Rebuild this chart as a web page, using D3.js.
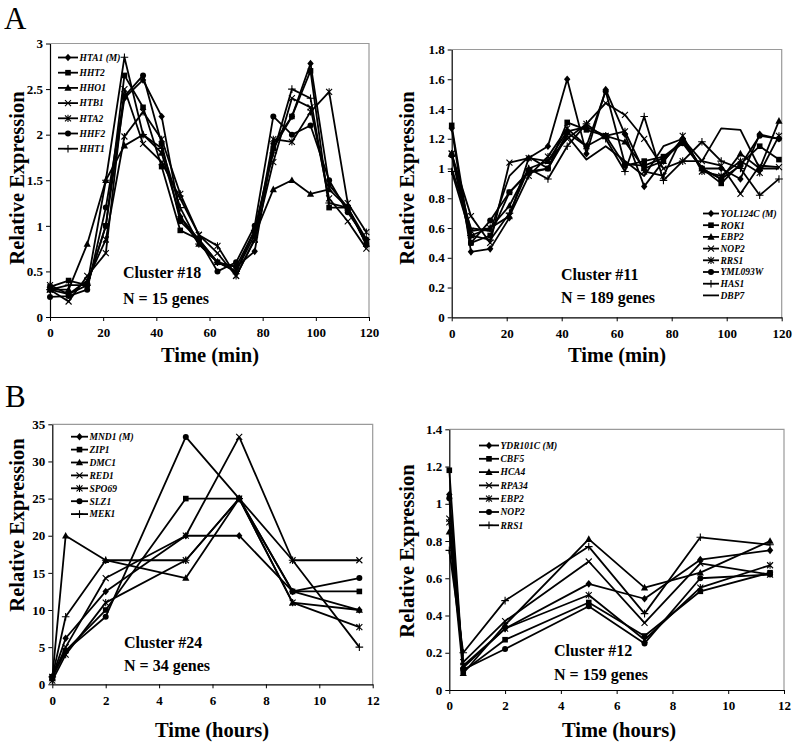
<!DOCTYPE html>
<html><head><meta charset="utf-8">
<script src="https://cdn.jsdelivr.net/npm/d3@7"></script>
<style>
html,body{margin:0;padding:0;background:#fff;}
svg{display:block;}
text{font-family:"Liberation Serif","Times New Roman",serif;fill:#000;}
</style></head>
<body><svg id="c" width="800" height="747"></svg>
<script>
// ---------- DATA ----------
const timeMin = [0,7,14,21,28,35,42,49,56,63,70,77,84,91,98,105,112,119];
const timeHours = [0,0.5,2,5,7,9,11.5];

const xTicksMin = [0,20,40,60,80,100,120];
const xTicksHours = [0,2,4,6,8,10,12];
const yTicksA1 = [0,0.5,1,1.5,2,2.5,3];
const yTicksA2 = [0,0.2,0.4,0.6,0.8,1,1.2,1.4,1.6,1.8];
const yTicksB1 = [0,5,10,15,20,25,30,35];
const yTicksB2 = [0,0.2,0.4,0.6,0.8,1,1.2,1.4];

// Panel A, cluster #18
const genesA1 = ["HTA1 (M)","HHT2","HHO1","HTB1","HTA2","HHF2","HHT1"];
const HTA1 = [0.30,0.25,0.35,1.00,2.40,2.60,2.20,1.10,0.85,0.60,0.55,0.72,1.90,2.20,2.78,1.45,1.20,0.80];
const HHT2 = [0.33,0.40,0.35,1.00,2.65,2.30,1.65,0.95,0.85,0.60,0.55,0.95,1.85,2.20,2.70,1.20,1.20,0.80];
const HHO1 = [0.30,0.30,0.80,1.50,1.88,2.00,1.80,1.10,0.80,0.60,0.50,0.90,1.40,1.50,1.35,1.40,1.20,0.80];
const HTB1 = [0.30,0.17,0.45,0.70,2.50,1.90,1.70,1.30,0.90,0.70,0.45,0.85,1.70,2.40,2.30,1.30,1.05,0.75];
const HTA2 = [0.35,0.25,0.40,0.85,1.98,2.25,1.95,1.35,0.90,0.78,0.45,0.85,1.95,1.92,2.25,2.47,1.25,0.93];
const HHF2 = [0.22,0.23,0.30,1.20,2.42,2.65,1.90,1.05,0.85,0.50,0.60,1.00,2.20,2.00,2.10,1.50,1.15,0.85];
const HHT1 = [0.30,0.35,0.35,1.50,2.85,2.00,1.85,1.20,0.80,0.60,0.50,0.95,1.80,2.50,2.40,1.25,1.20,0.85];

// Panel A, cluster #11
const genesA2 = ["YOL124C (M)","ROK1","EBP2","NOP2","RRS1","YML093W","HAS1","DBP7"];
const YOL124C = [1.27,0.44,0.46,0.67,1.07,1.15,1.60,1.10,1.53,1.23,0.88,1.05,1.20,1.00,1.00,0.93,1.23,1.20];
const ROK1    = [1.29,0.50,0.55,0.84,0.97,1.00,1.31,1.26,1.22,1.02,1.05,1.08,1.18,1.00,0.90,1.03,1.15,1.06];
const EBP2a   = [1.10,0.55,0.60,0.75,1.00,1.05,1.25,1.28,1.22,1.18,1.00,1.05,1.20,1.00,0.93,1.10,1.00,1.32];
const NOP2a   = [1.10,0.68,0.50,1.04,1.07,1.05,1.20,1.30,1.44,1.36,1.20,1.00,1.05,1.05,1.02,0.83,1.02,1.01];
const RRS1a   = [1.10,0.58,0.60,0.68,0.95,1.08,1.27,1.15,1.22,1.25,0.98,0.95,1.22,0.98,0.95,1.05,0.97,1.22];
const YML093W = [1.09,0.50,0.65,0.84,0.98,1.00,1.24,1.15,1.52,1.03,1.02,1.07,1.17,1.00,0.93,1.02,1.22,1.20];
const HAS1    = [0.98,0.55,0.52,0.70,1.00,0.93,1.15,1.30,1.20,0.98,1.35,0.92,1.05,1.18,1.05,1.00,0.82,0.93];
const DBP7    = [1.00,0.60,0.58,0.95,1.08,1.00,1.22,1.06,1.15,1.05,0.95,1.15,1.20,1.05,1.27,1.26,1.00,1.00];

// Panel B, cluster #24
const genesB1 = ["MND1 (M)","ZIP1","DMC1","RED1","SPO69","SLZ1","MEK1"];
const MND1  = [1.0,6.2,12.5,20.0,20.0,12.5,10.0];
const ZIP1  = [1.0,4.5,10.0,25.0,25.0,12.5,12.5];
const DMC1  = [0.8,20.0,16.7,14.3,25.0,11.0,10.0];
const RED1  = [1.0,5.0,14.3,20.0,33.3,16.7,16.7];
const SPO69 = [0.5,4.0,11.0,16.7,25.0,11.0,7.7];
const SLZ1  = [1.0,4.5,9.1,33.3,25.0,12.5,14.3];
const MEK1  = [1.0,9.1,16.7,16.7,25.0,16.7,5.0];

// Panel B, cluster #12
const genesB2 = ["YDR101C (M)","CBF5","HCA4","RPA34","EBP2","NOP2","RRS1"];
const YDR101C = [1.05,0.12,0.33,0.57,0.49,0.70,0.75];
const CBF5    = [1.18,0.10,0.27,0.47,0.29,0.53,0.63];
const HCA4    = [0.85,0.09,0.35,0.81,0.55,0.63,0.80];
const RPA34   = [0.92,0.15,0.37,0.69,0.36,0.68,0.62];
const EBP2b   = [0.90,0.13,0.33,0.51,0.27,0.55,0.67];
const NOP2b   = [1.03,0.11,0.22,0.45,0.25,0.60,0.62];
const RRS1b   = [0.75,0.20,0.48,0.77,0.41,0.82,0.78];

// ---------- LAYOUT ----------
const markerOrder = ["diamond","square","triangle","x","star","circle","plus","none"];
const panels = [
  {x0:50,x1:369,yT:43.5,yB:317,xDom:[0,120],yDom:[0,3],xTicks:xTicksMin,yTicks:yTicksA1,
   time:timeMin,names:genesA1,vals:[HTA1,HHT2,HHO1,HTB1,HTA2,HHF2,HHT1],
   leg:{x:58,y:57.5,dy:15.2,w:20},
   c1:{x:123,y:278,t:"Cluster #18"},c2:{x:123,y:304,t:"N = 15 genes"},
   xt:{x:210,y:362,t:"Time (min)"},yt:{x:24,y:178}},
  {x0:451.7,x1:781.7,yT:49.5,yB:317.3,xDom:[0,120],yDom:[0,1.8],xTicks:xTicksMin,yTicks:yTicksA2,
   time:timeMin,names:genesA2,vals:[YOL124C,ROK1,EBP2a,NOP2a,RRS1a,YML093W,HAS1,DBP7],
   leg:{x:703,y:213.5,dy:11.7,w:16},
   c1:{x:561,y:280,t:"Cluster #11"},c2:{x:561,y:303,t:"N = 189 genes"},
   xt:{x:617,y:362,t:"Time (min)"},yt:{x:414,y:178}},
  {x0:52.3,x1:372.7,yT:424.3,yB:684.3,xDom:[0,12],yDom:[0,35],xTicks:xTicksHours,yTicks:yTicksB1,
   time:timeHours,names:genesB1,vals:[MND1,ZIP1,DMC1,RED1,SPO69,SLZ1,MEK1],
   leg:{x:71,y:436.7,dy:12.9,w:17},
   c1:{x:124,y:647.5,t:"Cluster #24"},c2:{x:124,y:671,t:"N = 34 genes"},
   xt:{x:212,y:737,t:"Time (hours)"},yt:{x:24,y:525}},
  {x0:449.3,x1:784,yT:429.3,yB:690,xDom:[0,12],yDom:[0,1.4],xTicks:xTicksHours,yTicks:yTicksB2,
   time:timeHours,names:genesB2,vals:[YDR101C,CBF5,HCA4,RPA34,EBP2b,NOP2b,RRS1b],
   leg:{x:479,y:445.5,dy:13.3,w:20},
   c1:{x:554,y:655.5,t:"Cluster #12"},c2:{x:554,y:680,t:"N = 159 genes"},
   xt:{x:619,y:737,t:"Time (hours)"},yt:{x:414,y:551}}
];

const svg = d3.select("#c");
const fmt = d => String(+(+d).toFixed(2));

function drawMarker(g, type, x, y) {
  const s = 3.2;
  if (type === "diamond") g.append("path").attr("d",`M${x},${y-s-0.6}L${x+s},${y}L${x},${y+s+0.6}L${x-s},${y}Z`).attr("fill","#000");
  else if (type === "square") g.append("rect").attr("x",x-2.8).attr("y",y-2.8).attr("width",5.6).attr("height",5.6).attr("fill","#000");
  else if (type === "triangle") g.append("path").attr("d",`M${x},${y-3.8}L${x+3.6},${y+2.8}L${x-3.6},${y+2.8}Z`).attr("fill","#000");
  else if (type === "x") g.append("path").attr("d",`M${x-3},${y-3}L${x+3},${y+3}M${x-3},${y+3}L${x+3},${y-3}`).attr("stroke","#000").attr("stroke-width",1.1);
  else if (type === "star") g.append("path").attr("d",`M${x-3},${y-3}L${x+3},${y+3}M${x-3},${y+3}L${x+3},${y-3}M${x},${y-3.6}L${x},${y+3.6}`).attr("stroke","#000").attr("stroke-width",1.1);
  else if (type === "circle") g.append("circle").attr("cx",x).attr("cy",y).attr("r",3).attr("fill","#000");
  else if (type === "plus") g.append("path").attr("d",`M${x-3.8},${y}L${x+3.8},${y}M${x},${y-3.8}L${x},${y+3.8}`).attr("stroke","#000").attr("stroke-width",1.1);
}

// Panel letters
svg.append("text").attr("x",4).attr("y",29).attr("font-size",31).text("A");
svg.append("text").attr("x",5).attr("y",407).attr("font-size",31).text("B");

panels.forEach(p => {
  const x = d3.scaleLinear().domain(p.xDom).range([p.x0,p.x1]);
  const y = d3.scaleLinear().domain(p.yDom).range([p.yB,p.yT]);
  const g = svg.append("g");

  // frame (top & right gray)
  g.append("path").attr("d",`M${p.x0},${p.yT}H${p.x1}V${p.yB}`).attr("fill","none").attr("stroke","#9a9a9a").attr("stroke-width",1.2);

  // axes
  const xa = g.append("g").attr("transform",`translate(0,${p.yB})`)
    .call(d3.axisBottom(x).tickValues(p.xTicks).tickSize(4).tickSizeOuter(0).tickPadding(7).tickFormat(fmt));
  const ya = g.append("g").attr("transform",`translate(${p.x0},0)`)
    .call(d3.axisLeft(y).tickValues(p.yTicks).tickSize(4).tickSizeOuter(0).tickPadding(3).tickFormat(fmt));
  [xa,ya].forEach(a => {
    a.select(".domain").attr("stroke","#000").attr("stroke-width",1.2);
    a.selectAll(".tick line").attr("stroke","#000").attr("stroke-width",1);
    a.selectAll(".tick text").attr("font-family",'"Liberation Serif","Times New Roman",serif')
      .attr("font-size",13).attr("font-weight","bold").attr("fill","#000");
  });

  // series
  const line = d3.line().x((d,i)=>x(p.time[i])).y(d=>y(d));
  p.vals.forEach((vals,k) => {
    g.append("path").datum(vals).attr("d",line).attr("fill","none")
      .attr("stroke","#000").attr("stroke-width",1.8).attr("stroke-linejoin","round");
  });
  p.vals.forEach((vals,k) => {
    vals.forEach((v,i) => drawMarker(g, markerOrder[k], x(p.time[i]), y(v)));
  });

  // legend
  p.names.forEach((n,k) => {
    const ly = p.leg.y + k*p.leg.dy;
    g.append("line").attr("x1",p.leg.x).attr("x2",p.leg.x+p.leg.w).attr("y1",ly).attr("y2",ly)
      .attr("stroke","#000").attr("stroke-width",1.8);
    drawMarker(g, markerOrder[k], p.leg.x+p.leg.w/2, ly);
    g.append("text").attr("x",p.leg.x+p.leg.w+1.5).attr("y",ly).attr("dy","0.35em")
      .attr("font-size",9.5).attr("font-style","italic").attr("font-weight","bold").text(n);
  });

  // cluster labels
  g.append("text").attr("x",p.c1.x).attr("y",p.c1.y).attr("font-size",16).attr("font-weight","bold").text(p.c1.t);
  g.append("text").attr("x",p.c2.x).attr("y",p.c2.y).attr("font-size",16).attr("font-weight","bold").text(p.c2.t);

  // axis titles
  g.append("text").attr("x",p.xt.x).attr("y",p.xt.y).attr("text-anchor","middle")
    .attr("font-size",20.5).attr("font-weight","bold").text(p.xt.t);
  g.append("text").attr("transform",`translate(${p.yt.x},${p.yt.y}) rotate(-90)`).attr("text-anchor","middle")
    .attr("font-size",20.5).attr("font-weight","bold").text("Relative Expression");
});
</script></body></html>
